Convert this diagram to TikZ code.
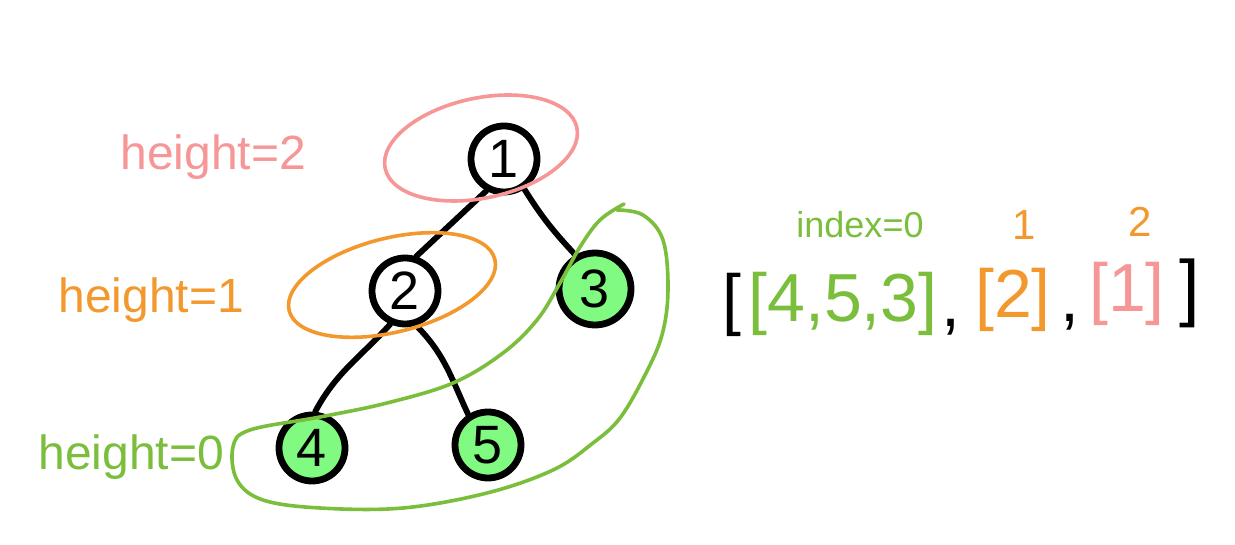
\documentclass[tikz,border=0pt]{standalone}
\usepackage{fontspec}
\setmainfont{Liberation Sans}
\definecolor{cpink}{RGB}{247,150,150}
\definecolor{corange}{RGB}{242,152,45}
\definecolor{cgreen}{RGB}{122,190,60}
\definecolor{cfill}{RGB}{128,250,128}
\begin{document}
\begin{tikzpicture}[x=0.5pt,y=0.5pt,
  tnode/.style={circle,draw=black,line width=3.4pt,minimum size=33pt,inner sep=0pt,font=\fontsize{27}{30}\selectfont},
  leaf/.style={tnode,fill=cfill},
  edge/.style={line width=2.9pt,line cap=round},
  ring/.style={line width=1.8pt,line cap=round,line join=round},
  lbl/.style={anchor=base west,inner sep=0pt,font=\fontsize{24}{28}\selectfont},
  idx/.style={anchor=base,inner sep=0pt,font=\fontsize{18}{20}\selectfont},
  arr/.style={anchor=base,inner sep=0pt,font=\fontsize{34}{40}\selectfont}]
\path[use as bounding box,fill=white] (0,0) rectangle (1235,545);

% tree nodes
\node[tnode] (n1) at (504,386) {1};
\node[tnode] (n2) at (405,254) {2};
\node[leaf,minimum size=36pt] (n3) at (595,256) {3};
\node[leaf] (n4) at (312,97) {4};
\node[leaf] (n5) at (488,100) {5};

% edges
\draw[edge] (n1.241) -- (n2.72);
\draw[edge] (n1.304) to[out=-58,in=133] (n3.120);
\draw[edge] (n2.246) to[out=228,in=62] (n4.85);
\draw[edge] (n2.288) to[out=-45,in=115] (n5.123);

% height groups
\draw[ring,cpink,rotate around={12:(481,397)}] (481,397) ellipse [x radius=98, y radius=50];
\draw[ring,corange,rotate around={14:(392,260)}] (392,260) ellipse [x radius=106, y radius=47];
\draw[ring,cgreen] plot[smooth,tension=0.6] coordinates {(617,335) (643,330) (663,305) (668,255) (662,210) (645,170) (620,127) (593,102) (553,75) (487,52) (403,37) (320,37) (263,45) (237,65) (233,98) (250,115) (320,128) (387,142) (453,162) (503,192) (537,225) (560,262) (580,298) (600,325) (624,341)};

% height labels
\node[lbl,text=cpink] (h2) at (120,375) {height=2};
\node[lbl,text=corange] (h1) at (58,232) {height=1};
\node[lbl,text=cgreen] (h0) at (38,75) {height=0};

% index labels
\node[idx,text=cgreen] (i0) at (860,307) {index=0};
\node[idx,text=corange,font=\fontsize{21}{24}\selectfont] (i1) at (1024,305) {1};
\node[idx,text=corange,font=\fontsize{21}{24}\selectfont] (i2) at (1140,308) {2};

% result array
\node[arr,text=black] (ob) at (732,222) {[};
\node[arr,text=cgreen] (g0) at (843,223) {[4,5,3]};
\node[arr,text=black] (c1) at (951,218) {,};
\node[arr,text=corange] (g1) at (1013,227) {[2]};
\node[arr,text=black] (c2) at (1070,223) {,};
\node[arr,text=cpink] (g2) at (1127,233) {[1]};
\node[arr,text=black,font=\fontsize{37}{40}\selectfont] (cb) at (1190,232) {]};
\end{tikzpicture}
\end{document}
